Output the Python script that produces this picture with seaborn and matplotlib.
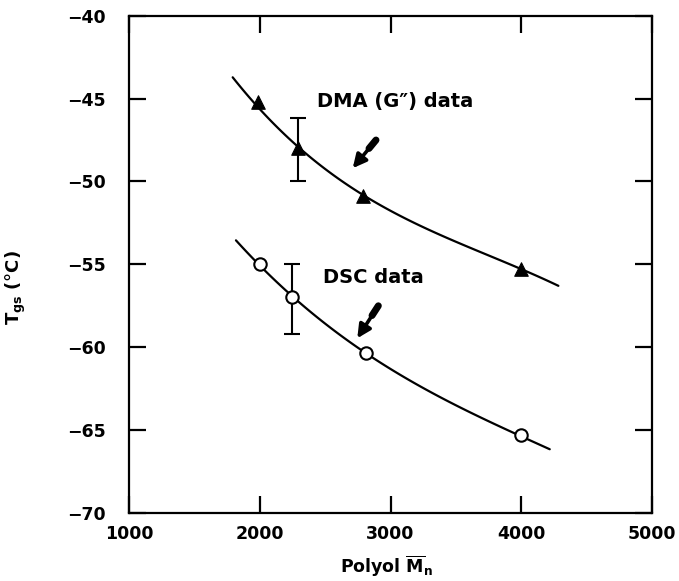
import matplotlib
matplotlib.use("Agg")
import matplotlib.pyplot as plt
import seaborn as sns
import numpy as np
import pandas as pd

# ---- data ----
dma_mn = [1989, 2290, 2792, 4000]
dma_tg = [-45.2, -48.0, -50.9, -55.3]
dma_err_x = [2290]
dma_err_y = [-48.0]
dma_err_lo = [1.95]
dma_err_hi = [1.85]

dsc_mn = [2002, 2249, 2813, 4000]
dsc_tg = [-55.0, -56.95, -60.36, -65.3]
dsc_err_x = [2249]
dsc_err_y = [-56.95]
dsc_err_lo = [2.25]
dsc_err_hi = [2.0]

# points
dma_curve_mn = [1793, 1989, 2290, 2538, 2792, 3311, 3641, 4000, 4284]
dma_curve_tg = [-43.9, -45.2, -48.0, -49.5, -50.9, -52.9, -54.1, -55.3, -56.3]
dsc_curve_mn = [1818, 2002, 2249, 2813, 3226, 3608, 4000, 4218]
dsc_curve_tg = [-53.6, -55.0, -56.95, -60.36, -62.38, -63.94, -65.3, -66.2]

arrow_dma = [(2889, -47.5), (2711, -49.2)]
arrow_dsc = [(2907, -57.5), (2746, -59.46)]

x_ticks = [1000, 2000, 3000, 4000, 5000]
y_ticks = [-70, -65, -60, -55, -50, -45, -40]

sns.set_style("ticks")
plt.rcParams['font.family'] = ['DejaVu Sans']
plt.rcParams['font.weight'] = 'bold'
plt.rcParams['text.color'] = 'black'
plt.rcParams['axes.edgecolor'] = 'black'
plt.rcParams['xtick.color'] = 'black'
plt.rcParams['ytick.color'] = 'black'
plt.rcParams['mathtext.fontset'] = 'custom'
plt.rcParams['mathtext.rm'] = 'DejaVu Sans:bold'
plt.rcParams['mathtext.bf'] = 'DejaVu Sans:bold'
plt.rcParams['mathtext.it'] = 'DejaVu Sans:bold'

fig = plt.figure(figsize=(6.79, 5.81), dpi=100)
ax = fig.add_axes([129/679, 1 - 513/581, (652-129)/679, (513-15.7)/581])

# trend curves
sns.regplot(x=dma_curve_mn, y=dma_curve_tg, order=3, ci=None, scatter=False,
            ax=ax, line_kws=dict(color='black', lw=1.6))
sns.regplot(x=dsc_curve_mn, y=dsc_curve_tg, order=3, ci=None, scatter=False,
            ax=ax, line_kws=dict(color='black', lw=1.6))

# error bars
ax.errorbar(dma_err_x, dma_err_y, yerr=[dma_err_lo, dma_err_hi], fmt='none',
            ecolor='black', elinewidth=1.5, capsize=6, capthick=1.5, zorder=3)
ax.errorbar(dsc_err_x, dsc_err_y, yerr=[dsc_err_lo, dsc_err_hi], fmt='none',
            ecolor='black', elinewidth=1.5, capsize=6, capthick=1.5, zorder=3)

# markers
sns.scatterplot(x=dma_mn, y=dma_tg, marker='^', s=95, color='black',
                edgecolor='black', ax=ax, zorder=5)
sns.scatterplot(x=dsc_mn, y=dsc_tg, marker='o', s=80, color='white',
                edgecolor='black', linewidth=1.5, ax=ax, zorder=5)

# arrows
for tail, tip in (arrow_dma, arrow_dsc):
    ax.annotate('', xy=tip, xytext=tail,
                arrowprops=dict(arrowstyle='-|>', color='black', lw=2.6,
                                mutation_scale=20, shrinkA=0, shrinkB=0))
    # fletching at the tail
    fx = tail[0] + 0.3 * (tip[0] - tail[0])
    fy = tail[1] + 0.3 * (tip[1] - tail[1])
    ax.annotate('', xy=(fx, fy), xytext=tail,
                arrowprops=dict(arrowstyle='-', color='black', lw=5,
                                shrinkA=0, shrinkB=0))

ax.text(2436, -45.2, "DMA (G\u2033) data", fontsize=14, fontweight='bold',
        va='center', ha='left')
ax.text(2481, -55.78, "DSC data", fontsize=14, fontweight='bold',
        va='center', ha='left')

ax.set_xlim(1000, 5000)
ax.set_ylim(-70, -40)
ax.set_xticks(x_ticks)
ax.set_yticks(y_ticks)
ax.set_xticklabels([str(v) for v in x_ticks])
ax.set_yticklabels(["\u2212" + str(-v) for v in y_ticks])
ax.tick_params(direction='in', length=12, width=1.6, labelsize=12.5,
               top=True, right=True, pad=8.5)
ax.tick_params(axis='y', pad=16.5)
for sp in ax.spines.values():
    sp.set_linewidth(1.6)
    sp.set_visible(True)
    sp.set_color('black')
ax.set_xlabel('')
ax.set_ylabel('')

fig.text(16/679, 1 - 288/581, r'$\mathbf{T}_{\mathbf{gs}}$ (°C)', rotation=90,
         ha='center', va='center', fontsize=13, fontweight='bold')
fig.text(340/679, 1 - 573/581, r'Polyol $\overline{\mathbf{M}}_{\mathbf{n}}$',
         ha='left', va='baseline', fontsize=12.5, fontweight='bold')

fig.savefig('out.png', dpi=100)
